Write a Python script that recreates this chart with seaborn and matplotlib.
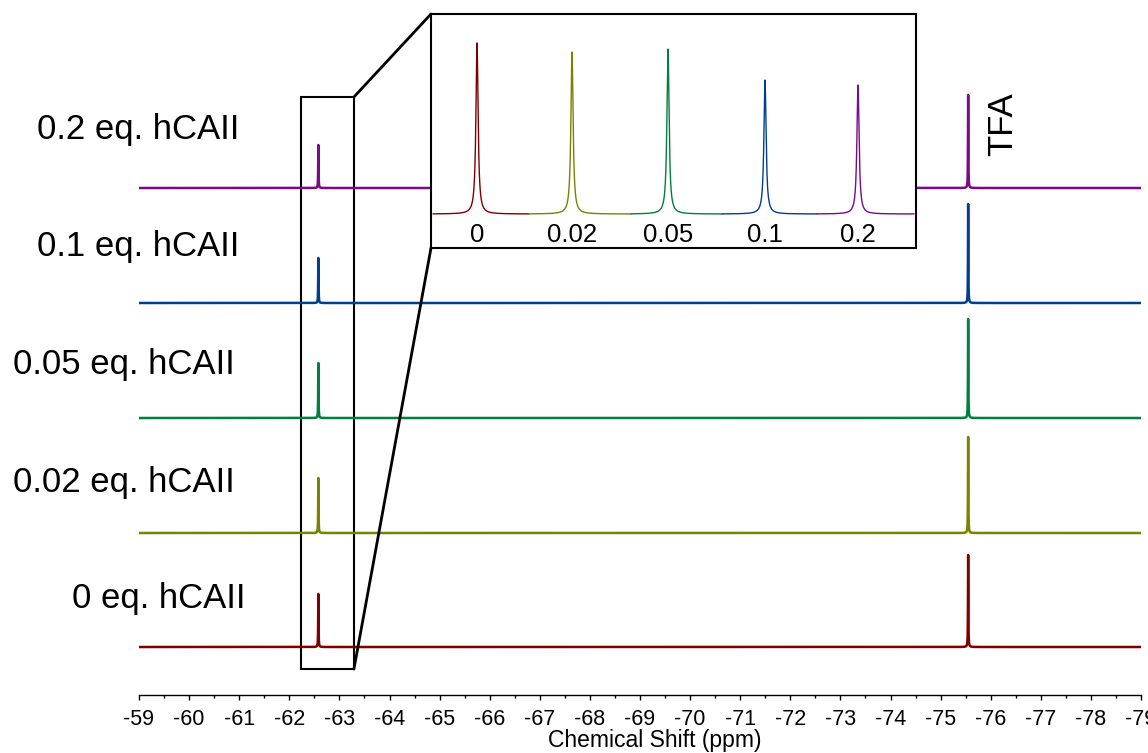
import numpy as np
import pandas as pd
import matplotlib
matplotlib.use("Agg")
import matplotlib.pyplot as plt
import seaborn as sns
from matplotlib.patches import Rectangle, ConnectionPatch
from matplotlib.ticker import MultipleLocator, FuncFormatter

# ---------------- data ----------------
eq_labels = ["0 eq. hCAII", "0.02 eq. hCAII", "0.05 eq. hCAII", "0.1 eq. hCAII", "0.2 eq. hCAII"]
inset_labels = ["0", "0.02", "0.05", "0.1", "0.2"]
ligand_shift = [-62.58, -62.58, -62.58, -62.58, -62.58]   # ppm
tfa_shift = [-75.55, -75.55, -75.55, -75.55, -75.55]      # ppm
ligand_height = [53, 55, 55, 45, 43]                      # relative intensity
tfa_height = [92, 96, 99, 99, 93]
inset_height = [171, 162, 165, 134, 129]                  # zoomed ligand peaks
inset_peak_pos = [46, 141, 237, 334, 427]                 # position within inset strip
inset_seg_edges = [2, 98, 200, 291, 386, 483]             # strip segment boundaries
colors = ["#800000", "#768400", "#00803c", "#003f8f", "#7a0a88"]

# ---------------- layout ----------------
W, H = 1148, 753
sns.set_style("ticks")
plt.rcParams["font.family"] = ["Liberation Sans", "DejaVu Sans"]
plt.rcParams["axes.unicode_minus"] = False
plt.rcParams["text.color"] = "black"
plt.rcParams["axes.labelcolor"] = "black"
plt.rcParams["xtick.color"] = "black"
plt.rcParams["axes.edgecolor"] = "black"

fig = plt.figure(figsize=(W / 100, H / 100), dpi=100)
ax = fig.add_axes([139 / W, 58 / H, 1002 / W, 695 / H])
stack_offsets = [48, 162, 277, 392, 507]

def lorentz(x, x0, h, g):
    return h / (1.0 + ((x - x0) / g) ** 2)

ppm = np.linspace(-59, -79, 40001)
frames = []
for i, lab in enumerate(eq_labels):
    y = (lorentz(ppm, ligand_shift[i], ligand_height[i], 0.004)
         + lorentz(ppm, tfa_shift[i], tfa_height[i], 0.004)
         + stack_offsets[i])
    frames.append(pd.DataFrame({"ppm": ppm, "intensity": y, "sample": lab}))
df = pd.concat(frames, ignore_index=True)

sns.lineplot(data=df, x="ppm", y="intensity", hue="sample", palette=dict(zip(eq_labels, colors)),
             estimator=None, sort=False, lw=1.8, legend=False, ax=ax)

ax.set_xlim(-59, -79)
ax.set_ylim(0, 695)
ax.set_yticks([])
ax.set_ylabel("")
for s in ["left", "right", "top"]:
    ax.spines[s].set_visible(False)
ax.spines["bottom"].set_linewidth(1.0)
ax.xaxis.set_major_locator(MultipleLocator(1))
ax.xaxis.set_minor_locator(MultipleLocator(0.5))
ax.xaxis.set_major_formatter(FuncFormatter(lambda v, p: f"{v:.0f}"))
ax.tick_params(axis="x", which="major", length=3.8, width=1.0, pad=6, labelsize=15.5, direction="out")
ax.tick_params(axis="x", which="minor", length=2.5, width=1.0, direction="out")
ax.set_xlabel("Chemical Shift (ppm)", fontsize=16.5, va="bottom")
ax.xaxis.set_label_coords((655 - 139) / 1002, -(752 - 695) / 695)

# sample labels
label_px = [(72, 608), (13, 492), (13, 374), (37, 256), (37, 139)]
for lab, (px, py) in zip(eq_labels, label_px):
    fig.text(px / W, 1 - py / H, lab, ha="left", va="baseline", fontsize=25)

fig.text(1003 / W, 1 - 124 / H, "TFA", rotation=90, ha="center", va="center", fontsize=25)

# highlight rectangle
rx0, rx1 = -62.23, -63.29
ry0, ry1 = 695 - 669, 695 - 97
ax.add_patch(Rectangle((rx0, ry0), rx1 - rx0, ry1 - ry0, fill=False, ec="black", lw=1.5, clip_on=False))

# inset
ax_in = fig.add_axes([431 / W, 1 - 248 / H, 485 / W, 234 / H])
ax_in.set_facecolor("white")
in_frames = []
for i, lab in enumerate(inset_labels):
    xs = np.linspace(inset_seg_edges[i], inset_seg_edges[i + 1], 1500)
    ys = lorentz(xs, inset_peak_pos[i], inset_height[i], 1.3)
    in_frames.append(pd.DataFrame({"x": xs, "y": ys, "sample": lab}))
dfi = pd.concat(in_frames, ignore_index=True)
sns.lineplot(data=dfi, x="x", y="y", hue="sample", palette=dict(zip(inset_labels, colors)),
             estimator=None, sort=False, lw=1.0, legend=False, ax=ax_in)
ax_in.set_xlim(0, 485)
ax_in.set_ylim(-34, 200)
ax_in.set_yticks([])
ax_in.set_xlabel("")
ax_in.set_ylabel("")
ax_in.set_xticks(inset_peak_pos)
ax_in.set_xticklabels(inset_labels)
ax_in.tick_params(axis="x", length=0, pad=-18, labelsize=18.5, labelcolor="black")
for s in ax_in.spines.values():
    s.set_visible(True)
    s.set_linewidth(1.5)
    s.set_color("black")

# connector lines
for ya, yb in [(ry1, 1), (ry0, 0)]:
    cp = ConnectionPatch(xyA=(rx1, ya), coordsA=ax.transData, xyB=(0, yb), coordsB=ax_in.transAxes,
                         color="black", lw=2.0)
    fig.add_artist(cp)

fig.savefig("out.png", dpi=100)
